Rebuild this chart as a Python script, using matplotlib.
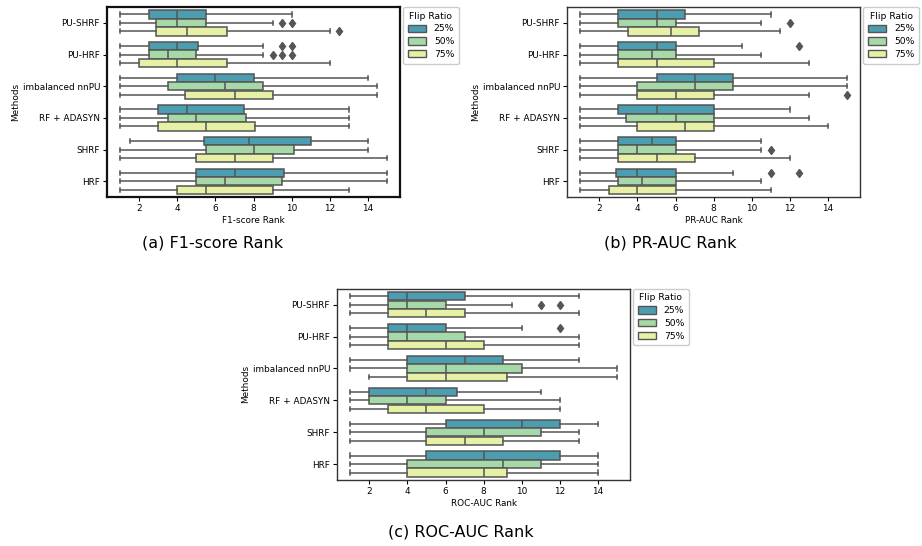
import matplotlib
matplotlib.use("Agg")
import matplotlib.pyplot as plt
from matplotlib.patches import Patch

methods = ["PU-SHRF", "PU-HRF", "imbalanced nnPU", "RF + ADASYN", "SHRF", "HRF"]
ratios = ["25%", "50%", "75%"]
colors = ["#4c9db0", "#a6d8a8", "#e6f1a5"]

# box stats: rows = methods, columns = flip ratio (25, 50, 75)
f1_low = [[1, 1, 1], [1, 1, 1], [1, 1, 1], [1, 1, 1], [1.5, 1, 1], [1, 1, 1]]
f1_q1 = [[2.5, 2.9, 2.9], [2.5, 2.5, 2], [4, 3.5, 4.4], [3, 3.5, 3], [5.4, 5.5, 5], [5, 5, 4]]
f1_med = [[4, 4, 4.5], [4, 3.5, 4], [6, 6.5, 7], [4.5, 5, 5.5], [7.75, 8, 7], [7, 6.5, 5.5]]
f1_q3 = [[5.5, 5.5, 6.6], [5.1, 5, 6.6], [8, 8.5, 9], [7.5, 7.6, 8.1], [11, 10.1, 9], [9.6, 9.5, 9]]
f1_high = [[10, 9, 12], [8.5, 8.5, 12], [14, 14.5, 14.5], [13, 13, 13], [14, 14, 15], [15, 15, 13]]
f1_out = [[[], [9.5, 10], [12.5]], [[9.5, 10], [9, 9.5, 10], []], [[], [], []],
          [[], [], []], [[], [], []], [[], [], []]]

pr_low = [[1, 1, 1], [1, 1, 1], [1, 1, 1], [1, 1, 1], [1, 1, 1], [1, 1, 1]]
pr_q1 = [[3, 3, 3.5], [3, 3, 3], [5, 4, 4], [3, 3.4, 4], [3, 3, 3], [2.85, 3, 2.5]]
pr_med = [[5, 5, 5.75], [5, 4.75, 5], [7, 7, 6], [5, 6, 6.5], [4.75, 4, 5], [4, 4.25, 4]]
pr_q3 = [[6.5, 6, 7.25], [6, 6, 8], [9, 9, 8], [8, 8, 8], [6, 6, 7], [6, 6, 6]]
pr_high = [[11, 10.5, 11.5], [9.5, 10.5, 13], [15, 15, 13], [12, 13, 14], [10.5, 10.5, 12], [9, 10.5, 11]]
pr_out = [[[], [12], []], [[12.5], [], []], [[], [], [15]],
          [[], [], []], [[], [11], []], [[11, 12.5], [], []]]

roc_low = [[1, 1, 1], [1, 1, 1], [1, 1, 2], [1, 1, 1], [1, 1, 1], [1, 1, 1]]
roc_q1 = [[3, 3, 3], [3, 3, 3], [4, 4, 4], [2, 2, 3], [6, 5, 5], [5, 4, 4]]
roc_med = [[4, 4, 5], [4, 4, 6], [7, 6, 6], [5, 4, 5], [10, 8, 7], [8, 9, 8]]
roc_q3 = [[7, 6, 7], [6, 7, 8], [9, 10, 9.25], [6.6, 6, 8], [12, 11, 9], [12, 11, 9.25]]
roc_high = [[13, 9.5, 13], [10, 13, 13], [13, 15, 15], [11, 12, 12], [14, 13, 13], [14, 14, 14]]
roc_out = [[[], [11, 12], []], [[12], [], []], [[], [], []],
           [[], [], []], [[], [], []], [[], [], []]]

line_col = "#555555"
fs = 6.4


def draw_panel(ax, low, q1, med, q3, high, out, xlabel):
    for j in range(len(ratios)):
        stats = []
        pos = []
        for i in range(len(methods)):
            stats.append({"whislo": low[i][j], "q1": q1[i][j], "med": med[i][j],
                          "q3": q3[i][j], "whishi": high[i][j], "fliers": out[i][j]})
            pos.append(i + (j - 1) * 0.267)
        ax.bxp(stats, positions=pos, widths=0.26, vert=False, patch_artist=True,
               boxprops=dict(facecolor=colors[j], edgecolor=line_col, linewidth=1.1),
               medianprops=dict(color=line_col, linewidth=1.1),
               whiskerprops=dict(color=line_col, linewidth=1.1),
               capprops=dict(color=line_col, linewidth=1.1),
               flierprops=dict(marker="d", markerfacecolor=line_col, markeredgecolor=line_col,
                               markersize=4.5),
               manage_ticks=False)
    ax.set_yticks(range(len(methods)))
    ax.set_yticklabels(methods)
    ax.set_ylim(5.5, -0.5)
    ax.set_xlim(0.3, 15.7)
    ax.set_xticks([2, 4, 6, 8, 10, 12, 14])
    ax.set_xlabel(xlabel, fontsize=fs, labelpad=2)
    ax.set_ylabel("Methods", fontsize=fs, labelpad=2)
    ax.tick_params(labelsize=fs, length=3, width=0.8, pad=2)
    handles = [Patch(facecolor=colors[k], edgecolor=line_col, label=ratios[k]) for k in range(3)]
    ax.legend(handles=handles, title="Flip Ratio", loc="upper left", bbox_to_anchor=(1.01, 1.0),
              borderaxespad=0.0, fontsize=fs + 0.3, title_fontsize=fs + 0.3, handlelength=2.0,
              handleheight=0.8, handletextpad=0.8, borderpad=0.5, labelspacing=0.4,
              framealpha=1, edgecolor="#cccccc")


fig = plt.figure(figsize=(9.22, 5.46), dpi=100)
ax1 = fig.add_axes([0.116, 0.639, 0.318, 0.348])
ax2 = fig.add_axes([0.615, 0.639, 0.318, 0.348])
ax3 = fig.add_axes([0.3655, 0.121, 0.318, 0.350])

draw_panel(ax1, f1_low, f1_q1, f1_med, f1_q3, f1_high, f1_out, "F1-score Rank")
draw_panel(ax2, pr_low, pr_q1, pr_med, pr_q3, pr_high, pr_out, "PR-AUC Rank")
draw_panel(ax3, roc_low, roc_q1, roc_med, roc_q3, roc_high, roc_out, "ROC-AUC Rank")

for s in ax1.spines.values():
    s.set_linewidth(1.6)
    s.set_color("#111111")
for ax in (ax2, ax3):
    for s in ax.spines.values():
        s.set_linewidth(1.0)
        s.set_color("#333333")

fig.text(0.231, 0.555, "(a) F1-score Rank", ha="center", va="center", fontsize=11.5)
fig.text(0.727, 0.555, "(b) PR-AUC Rank", ha="center", va="center", fontsize=11.5)
fig.text(0.5, 0.026, "(c) ROC-AUC Rank", ha="center", va="center", fontsize=11.5)

fig.savefig("out.png", dpi=100)
